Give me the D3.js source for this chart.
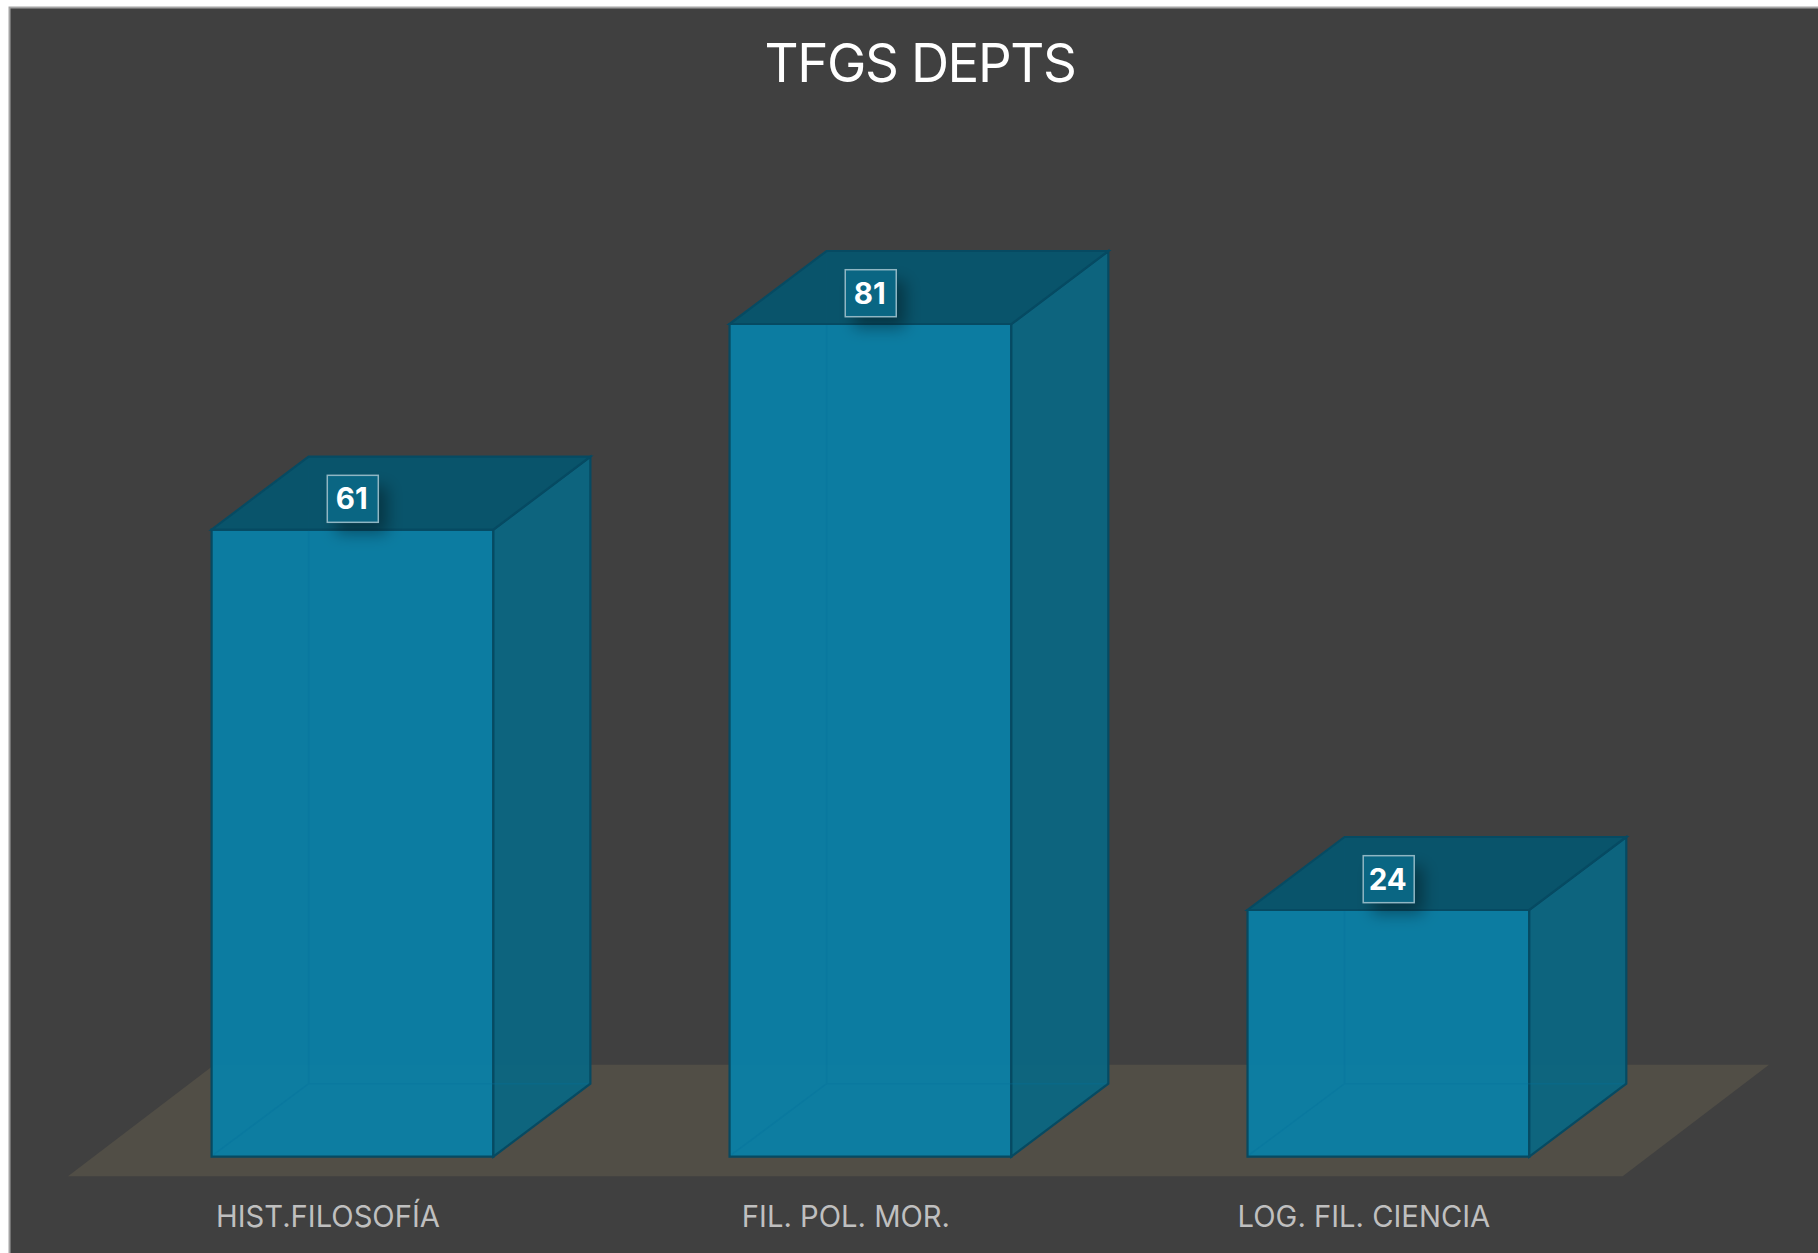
<!DOCTYPE html>
<html>
<head>
<meta charset="utf-8">
<script src="https://cdn.jsdelivr.net/npm/d3@7"></script>
<style>
    html, body { margin: 0; padding: 0; background: #fff; overflow: hidden; }
    svg { display: block; }
    text { font-family: Inter, "Noto Sans", sans-serif; }
</style>
</head>
<body>
<svg id="chart" width="1818" height="1253"></svg>
<script>
// data
const title = "TFGS DEPTS"
const categories = ["HIST.FILOSOFÍA", "FIL. POL. MOR.", "LOG. FIL. CIENCIA"]
const values = [61, 81, 24]

const width = 1818
const height = 1253

// depth of the fake 3d box
const depthX = 97
const depthY = -73

const xScale = d3.scaleBand().domain(categories).range([211.6, 1529.3]).paddingInner(0.456).paddingOuter(0)
const yScale = d3.scaleLinear().domain([0, 100]).range([1156.7, 128.7])

const colors = { bg: "#404040", floor: "#514e46", front: "#0a80a6", side: "#0b6682", top: "#08556c", edge: "#064a62", hidden: "#04709a" }

const chart = d3.select("#chart")
const line = d3.line()

// shadow blur for the value boxes
chart.append("defs").append("filter").attr("id", "blur")
    .attr("x", "-60%").attr("y", "-60%").attr("width", "220%").attr("height", "220%")
    .append("feGaussianBlur").attr("stdDeviation", 8)

// panel
chart.append("rect").attr("x", 9.5).attr("y", 7.5).attr("width", width).attr("height", height)
    .attr("fill", colors.bg).attr("stroke", "#a3a3a3").attr("stroke-width", 2)

chart.append("text").attr("x", 920).attr("y", 81.7).attr("text-anchor", "middle")
    .attr("font-size", 52.8).attr("letter-spacing", -1.4).attr("fill", "#fff").text(title)

// floor
const floorLeft = xScale(categories[0]) - 143.6
const floorRight = xScale(categories[2]) + xScale.bandwidth() + 93.4
const floorY = yScale(0) + 19.5
const floorRise = -111.5
const floorRun = 146.3
chart.append("path")
    .attr("d", line([
        [floorLeft, floorY],
        [floorRight, floorY],
        [floorRight + floorRun, floorY + floorRise],
        [floorLeft + floorRun, floorY + floorRise]
    ]) + "Z")
    .attr("fill", colors.floor)

const bars = categories.map((c, i) => ({ name: c, value: values[i] }))

const bar = chart.selectAll(".bar").data(bars).join("g").attr("class", "bar")

const corners = d => {
    const x0 = xScale(d.name)
    const x1 = x0 + xScale.bandwidth()
    const y0 = yScale(0)
    const y1 = yScale(d.value)
    return { x0, x1, y0, y1 }
}

// front
bar.append("path")
    .attr("d", d => {
        const { x0, x1, y0, y1 } = corners(d)
        return line([[x0, y0], [x1, y0], [x1, y1], [x0, y1]]) + "Z"
    })
    .attr("fill", colors.front).attr("fill-opacity", 0.95)
    .attr("stroke", colors.edge).attr("stroke-width", 2.2)

// side
bar.append("path")
    .attr("d", d => {
        const { x1, y0, y1 } = corners(d)
        return line([[x1, y0], [x1 + depthX, y0 + depthY], [x1 + depthX, y1 + depthY], [x1, y1]]) + "Z"
    })
    .attr("fill", colors.side).attr("fill-opacity", 0.95)
    .attr("stroke", colors.edge).attr("stroke-width", 2.2)

// hidden edges, faint through the faces
bar.append("path")
    .attr("d", d => {
        const { x0, x1, y0, y1 } = corners(d)
        return line([[x0 + 2, y0 - 2], [x0 + depthX, y0 + depthY], [x1 + depthX - 2, y0 + depthY]]) +
            line([[x0 + depthX, y0 + depthY], [x0 + depthX, y1 + depthY]])
    })
    .attr("fill", "none").attr("stroke", colors.hidden).attr("stroke-width", 1.5).attr("stroke-opacity", 0.3)

// top
bar.append("path")
    .attr("d", d => {
        const { x0, x1, y1 } = corners(d)
        return line([[x0, y1], [x1, y1], [x1 + depthX, y1 + depthY], [x0 + depthX, y1 + depthY]]) + "Z"
    })
    .attr("fill", colors.top).attr("fill-opacity", 0.98)
    .attr("stroke", colors.edge).attr("stroke-width", 2.2)

// value boxes
const boxW = 51
const boxH = 47
const boxUp = 30.8
const boxX = d => xScale(d.name) + xScale.bandwidth() / 2 + 0.3
const boxY = d => yScale(d.value) - boxUp

bar.append("rect")
    .attr("x", d => boxX(d) - boxW / 2 + 9).attr("y", d => boxY(d) - boxH / 2 + 11)
    .attr("width", boxW).attr("height", boxH)
    .attr("fill", "#000").attr("fill-opacity", 0.36).attr("filter", "url(#blur)")

bar.append("rect")
    .attr("x", d => boxX(d) - boxW / 2).attr("y", d => boxY(d) - boxH / 2)
    .attr("width", boxW).attr("height", boxH)
    .attr("fill", "#0a6683")
    .attr("stroke", "#8fb6c3").attr("stroke-width", 1.5)

bar.append("text")
    .attr("x", d => boxX(d) - 1).attr("y", d => boxY(d) + 10.6)
    .attr("text-anchor", "middle").attr("font-size", 29.5).attr("font-weight", 700)
    .attr("fill", "#fff").text(d => d.value)

// category labels
bar.append("text")
    .attr("x", d => xScale(d.name) + xScale.bandwidth() / 2 - 24.5).attr("y", 1227)
    .attr("text-anchor", "middle").attr("font-size", 29.2).attr("fill", "#bfbfbf")
    .text(d => d.name)
</script>
</body>
</html>
